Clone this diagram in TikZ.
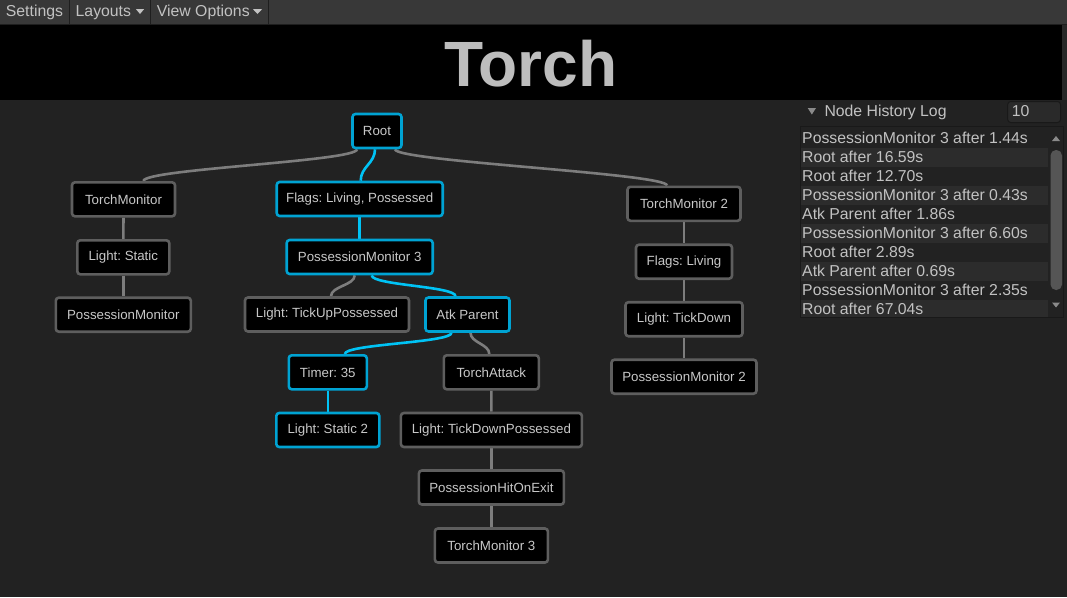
\documentclass[tikz,border=0pt]{standalone}
\usepackage{fontspec}
\setmainfont{Liberation Sans}
\frenchspacing
\pgfdeclarelayer{bgzero}
\pgfdeclarelayer{edges}
\pgfsetlayers{bgzero,edges,main}
\definecolor{mainbg}{HTML}{222222}
\definecolor{menubg}{HTML}{383838}
\definecolor{menuline}{HTML}{1E1E1E}
\definecolor{panelbg}{HTML}{282828}
\definecolor{uitext}{HTML}{C2C2C2}
\definecolor{titlec}{HTML}{BDBDBD}
\definecolor{ntext}{HTML}{C8C8C8}
\definecolor{gborder}{HTML}{5E5E5E}
\definecolor{gline}{HTML}{7D7D7D}
\definecolor{bborder}{HTML}{00A3D3}
\definecolor{bline}{HTML}{00C3F5}
\definecolor{fieldbg}{HTML}{2A2A2A}
\definecolor{fieldborder}{HTML}{191919}
\definecolor{listbg}{HTML}{222222}
\definecolor{rowalt}{HTML}{2C2C2C}
\definecolor{thumbc}{HTML}{555555}
\definecolor{tric}{HTML}{8A8A8A}
\newcommand{\nodefont}{\fontsize{13.3}{16}\selectfont}
\newcommand{\uifont}{\fontsize{15.8}{19}\selectfont}
\tikzset{
  nd/.style={draw=gborder, line width=2.6pt, fill=black, rounded corners=3pt,
    minimum height=34pt, inner sep=0pt, text=ntext, font=\nodefont},
  act/.style={nd, draw=bborder},
  gedge/.style={draw=gline, line width=2.6pt},
  bedge/.style={draw=bline, line width=2.6pt},
  ui/.style={text=uitext, font=\uifont, inner sep=0pt, anchor=base west},
  menudiv/.style={draw=menuline, line width=1pt},
  tri/.style={fill=tric},
}
\begin{document}
\begin{tikzpicture}[x=1pt,y=-1pt]
\useasboundingbox (0,0) rectangle (1067,597);
\begin{pgfonlayer}{bgzero}
  \fill[mainbg] (0,0) rectangle (1067,597);
  \fill[menubg] (0,0) rectangle (1067,24);
  \fill[menuline] (0,24) rectangle (1067,25);
  \fill[black] (0,25) rectangle (1062,100);
  \fill[panelbg] (1062,25) rectangle (1067,100);
  \draw[menudiv] (69.3,0) -- (69.3,24);
  \draw[menudiv] (150.7,0) -- (150.7,24);
  \draw[menudiv] (268.3,0) -- (268.3,24);
  % list box
  \fill[listbg] (800,126) rectangle (1063,317.5);
  \draw[fieldborder, line width=1pt] (800,126) rectangle (1063,317.5);
  \foreach \k in {2,4,6,8,10} {
    \pgfmathsetmacro{\ya}{128.7+19*(\k-1)}
    \pgfmathsetmacro{\yb}{min(\ya+19,317)}
    \fill[rowalt] (800.5,\ya) rectangle (1048,\yb);
  }
  \fill[thumbc, rounded corners=5.5pt] (1050.5,150) rectangle (1062,290);
  \fill[tri] (1052,141) -- (1060,141) -- (1056,136) -- cycle;
  \fill[tri] (1052,302.5) -- (1060,302.5) -- (1056,307.5) -- cycle;
  % number field
  \draw[fill=fieldbg, draw=fieldborder, rounded corners=3pt, line width=1pt] (1007.7,101.5) rectangle (1060.5,122.5);
  % header triangle
  \fill[tri] (807.7,108) -- (816,108) -- (811.85,114.5) -- cycle;
  % menu triangles
  \fill[uitext] (136,9.2) -- (144,9.2) -- (140,14) -- cycle;
  \fill[uitext] (253,9.2) -- (262,9.2) -- (257.5,14) -- cycle;
\end{pgfonlayer}

% menu
\node[ui] (mset) at (5.7,16.3) {Settings};
\node[ui] (mlay) at (75.5,16.3) {Layouts};
\node[ui] (mview) at (156.7,16.3) {View Options};

% title
\node[text=titlec, font=\fontsize{64}{64}\selectfont\bfseries, inner sep=0pt, anchor=base] (title) at (531,86) {Torch};

% log panel
\node[ui] (hdr) at (824.3,116.7) {Node History Log};
\node[ui] (cnt) at (1011.7,116.7) {10};
\node[ui] (r1) at (802,143.3) {PossessionMonitor 3 after 1.44s};
\node[ui] (r2) at (802,162.3) {Root after 16.59s};
\node[ui] (r3) at (802,181.3) {Root after 12.70s};
\node[ui] (r4) at (802,200.3) {PossessionMonitor 3 after 0.43s};
\node[ui] (r5) at (802,219.3) {Atk Parent after 1.86s};
\node[ui] (r6) at (802,238.3) {PossessionMonitor 3 after 6.60s};
\node[ui] (r7) at (802,257.3) {Root after 2.89s};
\node[ui] (r8) at (802,276.3) {Atk Parent after 0.69s};
\node[ui] (r9) at (802,295.3) {PossessionMonitor 3 after 2.35s};
\node[ui] (r10) at (802,314.3) {Root after 67.04s};

% tree nodes
\node[act, minimum width=49pt] (root) at (377,131) {Root};
\node[act, minimum width=166pt] (flags) at (359.7,199) {Flags: Living, Possessed};
\node[act, minimum width=146pt] (pm3) at (359.7,257) {PossessionMonitor 3};
\node[nd, minimum width=164pt] (ltup) at (327,314.5) {Light: TickUpPossessed};
\node[act, minimum width=84pt] (atk) at (467.5,314.5) {Atk Parent};
\node[nd, minimum width=103pt] (tm) at (123.5,199.3) {TorchMonitor};
\node[nd, minimum width=92pt] (ls) at (123.3,257.3) {Light: Static};
\node[nd, minimum width=135pt] (pm) at (123.3,314.7) {PossessionMonitor};
\node[act, minimum width=78pt] (timer) at (327.8,372.3) {Timer: 35};
\node[act, minimum width=103pt] (ls2) at (327.8,430) {Light: Static 2};
\node[nd, minimum width=95pt] (ta) at (491.3,372.3) {TorchAttack};
\node[nd, minimum width=181pt] (ltdp) at (491.4,430) {Light: TickDownPossessed};
\node[nd, minimum width=145pt] (phoe) at (491.4,487.5) {PossessionHitOnExit};
\node[nd, minimum width=113pt] (tm3) at (491.4,545.5) {TorchMonitor 3};
\node[nd, minimum width=113pt] (tm2) at (684,203.8) {TorchMonitor 2};
\node[nd, minimum width=96pt] (fl) at (684,261.7) {Flags: Living};
\node[nd, minimum width=117pt] (ltd) at (684,319.2) {Light: TickDown};
\node[nd, minimum width=145pt] (pm2) at (684,376.7) {PossessionMonitor 2};

% connectors
\begin{pgfonlayer}{edges}
  \draw[gedge] ([xshift=-20pt]root.south) .. controls +(0,12) and +(0,-12) .. ([xshift=20pt]tm.north);
  \draw[gedge] ([xshift=18pt]root.south) .. controls +(0,12) and +(0,-12) .. ([xshift=-17pt]tm2.north);
  \draw[bedge] ([xshift=-2pt]root.south) .. controls +(0,14) and +(0,-14) .. ([xshift=1pt]flags.north);
  \draw[bedge] (flags.south) -- (pm3.north);
  \draw[gedge] ([xshift=-5pt]pm3.south) .. controls +(0,10) and +(0,-10) .. ([xshift=4pt]ltup.north);
  \draw[bedge] ([xshift=12pt]pm3.south) .. controls +(0,10) and +(0,-10) .. ([xshift=-12pt]atk.north);
  \draw[bedge] ([xshift=-16pt]atk.south) .. controls +(0,10) and +(0,-10) .. ([xshift=17pt]timer.north);
  \draw[gedge] ([xshift=3pt]atk.south) .. controls +(0,10) and +(0,-10) .. ([xshift=-2pt]ta.north);
  \draw[bedge] (timer.south) -- (ls2.north);
  \draw[gedge] (ta.south) -- (ltdp.north);
  \draw[gedge] (ltdp.south) -- (phoe.north);
  \draw[gedge] (phoe.south) -- (tm3.north);
  \draw[gedge] (tm.south) -- (ls.north);
  \draw[gedge] (ls.south) -- (pm.north);
  \draw[gedge] (tm2.south) -- (fl.north);
  \draw[gedge] (fl.south) -- (ltd.north);
  \draw[gedge] (ltd.south) -- (pm2.north);
\end{pgfonlayer}
\end{tikzpicture}
\end{document}
